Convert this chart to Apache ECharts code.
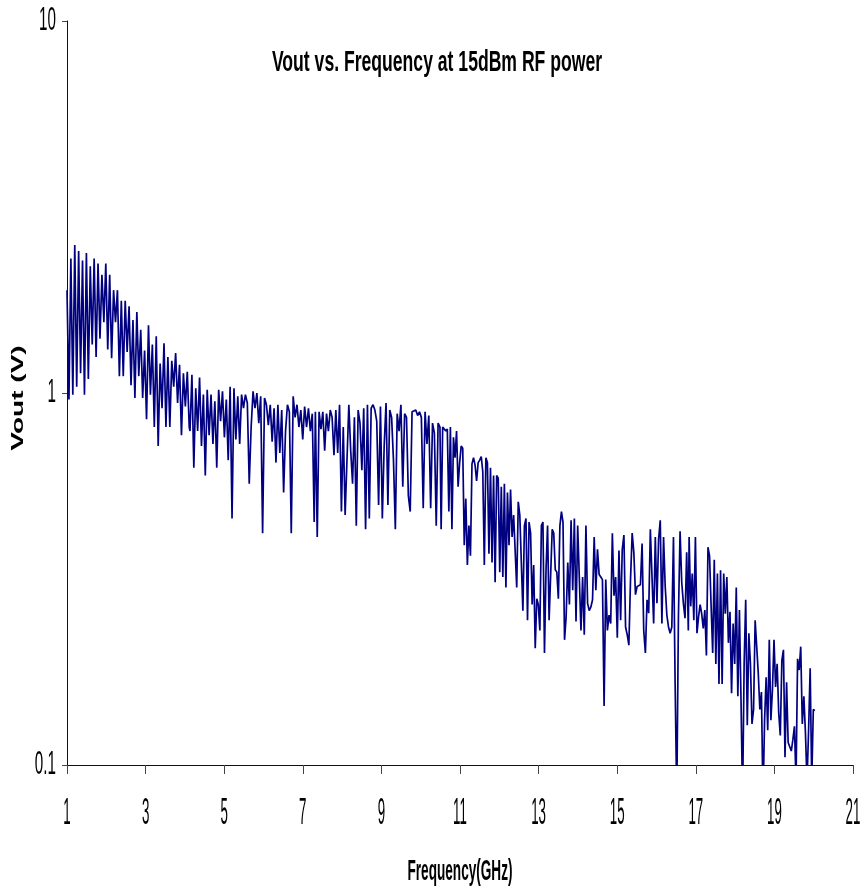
<!DOCTYPE html>
<html>
<head>
<meta charset="utf-8">
<title>Vout vs. Frequency at 15dBm RF power</title>
<script src="https://cdn.jsdelivr.net/npm/echarts@6/dist/echarts.min.js"></script>
<style>
  html, body { margin: 0; padding: 0; background: #ffffff; }
  #chart { width: 861px; height: 890px; }
</style>
</head>
<body>
<div id="chart"></div>
<script>
// Sweep bands (GHz): each band's readings are evenly spaced between its start and stop frequency.
const sweepBands = [
  [1.00, 4.11],
  [4.13, 7.29],
  [7.32, 10.49],
  [10.52, 13.66],
  [13.70, 16.81],
  [16.83, 20.03]
];

// Measured output voltage (V) for each sweep band.
const voutBand1 = [
  1.89, 0.96, 2.30, 0.99, 2.50, 1.04, 2.41, 1.13, 2.27, 0.99,
  2.38, 1.09, 2.19, 1.35, 2.30, 1.25, 2.23, 1.40, 2.08, 1.55,
  2.23, 1.31, 2.08, 1.24, 1.89, 1.55, 1.89, 1.11, 1.77, 1.11,
  1.77, 1.29, 1.71, 1.05, 1.57, 0.97, 1.65, 1.11, 1.48, 0.97,
  1.30, 0.85, 1.52, 0.99, 1.35, 0.81, 1.42, 0.72, 1.20, 0.91,
  1.36, 0.81, 1.25, 0.81, 1.22, 1.04, 1.28, 0.94, 1.19, 0.77,
  1.13, 0.92, 1.14, 0.81
];
const voutBand2 = [
  0.79, 1.12, 0.63, 1.03, 0.79, 1.10, 0.72, 0.99, 0.60, 1.02,
  0.77, 0.99, 0.73, 0.95, 0.63, 1.02, 0.84, 1.01, 0.76, 0.96,
  0.66, 1.04, 0.46, 1.03, 0.75, 0.98, 0.73, 0.99, 0.91, 0.99,
  0.94, 0.57, 0.81, 1.01, 0.91, 1.00, 0.83, 0.98, 0.42, 0.97,
  0.93, 0.82, 0.93, 0.74, 0.91, 0.65, 0.93, 0.69, 0.90, 0.54,
  0.79, 0.93, 0.89, 0.42, 0.98, 0.86, 0.93, 0.81, 0.90, 0.75,
  0.92, 0.81, 0.91, 0.79, 0.88, 0.45
];
const voutBand3 = [
  0.89, 0.41, 0.89, 0.80, 0.89, 0.70, 0.88, 0.79, 0.90, 0.86,
  0.68, 0.90, 0.69, 0.93, 0.48, 0.81, 0.47, 0.47, 0.93, 0.70,
  0.57, 0.86, 0.44, 0.90, 0.83, 0.62, 0.91, 0.43, 0.93, 0.46,
  0.91, 0.93, 0.90, 0.84, 0.50, 0.92, 0.46, 0.72, 0.94, 0.50,
  0.90, 0.86, 0.66, 0.43, 0.88, 0.79, 0.93, 0.56, 0.88, 0.86,
  0.53, 0.48, 0.89, 0.88, 0.90, 0.87, 0.89, 0.86, 0.49, 0.89,
  0.73, 0.87, 0.49, 0.83, 0.78, 0.44, 0.83, 0.81
];
const voutBand4 = [
  0.43, 0.81, 0.80, 0.79, 0.80, 0.48, 0.81, 0.43, 0.76, 0.67,
  0.79, 0.56, 0.65, 0.72, 0.71, 0.39, 0.52, 0.345, 0.44, 0.365,
  0.645, 0.67, 0.64, 0.58, 0.65, 0.66, 0.675, 0.615, 0.345, 0.67,
  0.65, 0.37, 0.63, 0.35, 0.60, 0.31, 0.60, 0.59, 0.33, 0.56,
  0.32, 0.57, 0.30, 0.54, 0.39, 0.55, 0.41, 0.47, 0.47, 0.30,
  0.51, 0.47, 0.47, 0.26, 0.44, 0.46, 0.245, 0.45, 0.42, 0.27,
  0.345, 0.206, 0.28, 0.27, 0.23, 0.44, 0.45, 0.20, 0.335, 0.44,
  0.245, 0.245, 0.43, 0.42, 0.335, 0.33, 0.28, 0.44, 0.48, 0.45,
  0.217
];
const voutBand5 = [
  0.25, 0.35, 0.27, 0.455, 0.295, 0.46, 0.243, 0.44, 0.44, 0.23,
  0.32, 0.224, 0.44, 0.272, 0.26, 0.266, 0.278, 0.41, 0.295, 0.38,
  0.325, 0.32, 0.315, 0.144, 0.315, 0.23, 0.253, 0.24, 0.42, 0.285,
  0.32, 0.22, 0.377, 0.245, 0.38, 0.415, 0.235, 0.224, 0.21, 0.315,
  0.42, 0.373, 0.287, 0.302, 0.305, 0.305, 0.394, 0.23, 0.20, 0.278,
  0.256, 0.43, 0.433, 0.24, 0.41, 0.272, 0.405, 0.455, 0.24, 0.41,
  0.302, 0.253, 0.235, 0.226, 0.235, 0.41, 0.166, 0.08, 0.25, 0.425,
  0.31, 0.272, 0.248, 0.373, 0.23
];
const voutBand6 = [
  0.41, 0.267, 0.327, 0.245, 0.41, 0.226, 0.25, 0.27, 0.255, 0.233,
  0.261, 0.197, 0.385, 0.365, 0.267, 0.20, 0.356, 0.187, 0.327, 0.165,
  0.334, 0.165, 0.327, 0.255, 0.32, 0.213, 0.258, 0.156, 0.24, 0.187,
  0.30, 0.153, 0.261, 0.151, 0.08, 0.187, 0.278, 0.128, 0.226, 0.187,
  0.129, 0.141, 0.245, 0.208, 0.176, 0.141, 0.157, 0.08, 0.132, 0.172,
  0.124, 0.217, 0.132, 0.159, 0.217, 0.162, 0.187, 0.138, 0.12, 0.191,
  0.204, 0.105, 0.167, 0.115, 0.116, 0.109, 0.117, 0.127, 0.09, 0.193,
  0.18, 0.208, 0.129, 0.153, 0.122, 0.09, 0.124, 0.182, 0.09, 0.141,
  0.14
];

// Axis ticks and labels.
const freqTicks = [1, 3, 5, 7, 9, 11, 13, 15, 17, 19, 21];
const voutTicks = [0.1, 1, 10];
const voutTickLabels = ['0.1', '1', '10'];

const titleText = 'Vout vs. Frequency at 15dBm RF power';
const xTitleText = 'Frequency(GHz)';
const yTitleText = 'Vout (V)';

// Build [frequency, vout] pairs from the sweep bands.
const voutBands = [voutBand1, voutBand2, voutBand3, voutBand4, voutBand5, voutBand6];
const sweepPoints = [];
voutBands.forEach(function (vals, k) {
  const a = sweepBands[k][0], b = sweepBands[k][1];
  vals.forEach(function (v, i) {
    sweepPoints.push([a + i * (b - a) / (vals.length - 1), v]);
  });
});

const FONT = '"Liberation Sans", Arial, sans-serif';
const chart = echarts.init(document.getElementById('chart'), null, { renderer: 'canvas' });

chart.setOption({
  animation: false,
  backgroundColor: '#ffffff',
  grid: { left: 67, right: 8, top: 21, bottom: 125 },
  xAxis: {
    type: 'value',
    min: 1,
    max: 21,
    axisLine: { show: true, lineStyle: { color: '#111', width: 1 } },
    axisTick: { show: true, inside: false, length: 9, customValues: freqTicks, lineStyle: { color: '#444', width: 1 } },
    axisLabel: { show: false },
    splitLine: { show: false }
  },
  yAxis: {
    type: 'log',
    logBase: 10,
    min: 0.1,
    max: 10,
    axisLine: { show: true, lineStyle: { color: '#111', width: 1 } },
    axisTick: { show: true, inside: false, length: 5, lineStyle: { color: '#444', width: 1 } },
    minorTick: { show: false },
    axisLabel: { show: false },
    splitLine: { show: false }
  },
  series: [{
    type: 'line',
    data: sweepPoints,
    symbol: 'none',
    showSymbol: false,
    clip: true,
    lineStyle: { color: '#000080', width: 1.7 }
  }]
});

// Tall, narrow text placed at the library's own tick positions.
function textEl(str, x, y, opts) {
  return {
    type: 'text',
    x: x,
    y: y,
    rotation: opts.rotation || 0,
    scaleX: opts.scaleX || 1,
    scaleY: opts.scaleY || 1,
    silent: true,
    style: {
      text: str,
      font: opts.font,
      fill: '#000000',
      align: opts.align || 'center',
      textAlign: opts.align || 'center',
      verticalAlign: 'middle',
      textVerticalAlign: 'middle'
    }
  };
}

const labels = [];
const yAxisPx = chart.convertToPixel({ xAxisIndex: 0 }, 1);
const xAxisPy = chart.convertToPixel({ yAxisIndex: 0 }, 0.1);

freqTicks.forEach(function (t) {
  const px = chart.convertToPixel({ xAxisIndex: 0 }, t);
  labels.push(textEl(String(t), px, xAxisPy + 49, { font: '14px ' + FONT, scaleX: 0.95, scaleY: 2.6 }));
});
voutTicks.forEach(function (v, i) {
  const py = chart.convertToPixel({ yAxisIndex: 0 }, v);
  labels.push(textEl(voutTickLabels[i], yAxisPx - 11, py, { font: '16px ' + FONT, scaleX: 0.95, scaleY: 2.1, align: 'right' }));
});
labels.push(textEl(titleText, 437, 63, { font: 'bold 17.6px ' + FONT, scaleY: 1.67 }));
labels.push(textEl(xTitleText, 460, 872, { font: 'bold 13.6px ' + FONT, scaleY: 2.2 }));
labels.push(textEl(yTitleText, 18, 398, { font: 'bold 17px ' + FONT, scaleX: 1.65, rotation: Math.PI / 2 }));

chart.setOption({ graphic: { elements: labels } });
</script>
</body>
</html>
